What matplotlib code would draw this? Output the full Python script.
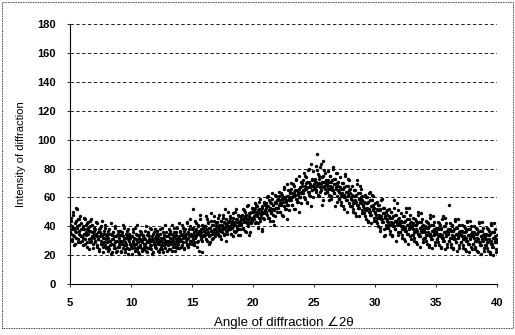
import numpy as np
import matplotlib.pyplot as plt
from matplotlib.patches import Rectangle

# 2-theta from 5 to 40 deg, 0.05 deg step; one row per degree
angle_start = 5.0
angle_step = 0.05
intensity = [
    41, 35, 46, 30, 38, 50, 33, 39, 28, 44, 36, 40, 52, 31, 37, 45, 34, 29, 42, 38,
    33, 40, 27, 38, 45, 31, 36, 42, 29, 35, 39, 24, 37, 44, 32, 30, 41, 36, 28, 34,
    37, 29, 35, 43, 26, 33, 31, 38, 24, 36, 30, 40, 28, 34, 22, 35, 32, 39, 27, 31,
    29, 35, 23, 32, 38, 27, 30, 21, 34, 28, 36, 31, 25, 40, 29, 33, 22, 30, 35, 26,
    32, 26, 37, 29, 23, 34, 30, 41, 27, 31, 22, 35, 28, 33, 25, 38, 30, 24, 32, 28,
    27, 33, 21, 30, 36, 28, 25, 39, 31, 24, 34, 29, 22, 32, 37, 26, 30, 35, 23, 31,
    34, 28, 24, 31, 40, 26, 30, 22, 35, 29, 33, 25, 38, 27, 31, 21, 30, 36, 28, 32,
    26, 33, 29, 37, 23, 31, 28, 35, 24, 30, 39, 27, 32, 22, 34, 29, 25, 36, 30, 28,
    33, 27, 38, 30, 24, 35, 29, 41, 26, 32, 28, 36, 23, 31, 34, 27, 39, 30, 25, 33,
    30, 37, 26, 34, 41, 29, 35, 24, 33, 38, 31, 27, 43, 32, 36, 28, 34, 40, 30, 35,
    38, 31, 52, 34, 27, 37, 42, 33, 29, 36, 40, 23, 35, 45, 32, 38, 30, 41, 34, 37,
    33, 40, 36, 47, 30, 38, 35, 43, 28, 39, 34, 49, 37, 31, 41, 36, 44, 33, 38, 35,
    42, 36, 39, 46, 33, 40, 37, 44, 31, 41, 38, 48, 35, 43, 39, 30, 45, 37, 41, 50,
    38, 44, 40, 47, 35, 42, 39, 46, 33, 43, 41, 50, 37, 45, 40, 34, 48, 42, 38, 44,
    47, 41, 45, 52, 38, 46, 43, 50, 36, 48, 44, 55, 40, 47, 34, 49, 45, 42, 53, 46,
    45, 51, 47, 56, 42, 50, 48, 54, 39, 52, 46, 59, 44, 50, 37, 53, 49, 46, 57, 51,
    55, 49, 53, 60, 46, 54, 51, 58, 44, 56, 50, 63, 48, 55, 52, 41, 57, 53, 61, 50,
    53, 59, 55, 64, 50, 58, 56, 62, 48, 60, 54, 67, 52, 59, 57, 45, 61, 55, 65, 58,
    58, 64, 60, 70, 55, 63, 61, 68, 52, 65, 59, 73, 57, 64, 62, 50, 66, 60, 71, 63,
    63, 70, 65, 77, 60, 68, 66, 74, 57, 71, 64, 80, 62, 69, 67, 54, 72, 65, 78, 68,
    72, 66, 70, 82, 64, 90, 69, 76, 61, 73, 67, 83, 65, 71, 58, 75, 68, 79, 63, 70,
    70, 64, 68, 78, 62, 71, 66, 75, 59, 72, 65, 81, 63, 69, 54, 73, 67, 77, 61, 68,
    65, 59, 63, 74, 57, 66, 61, 70, 54, 67, 60, 76, 58, 64, 50, 68, 62, 72, 56, 63,
    60, 54, 58, 68, 52, 61, 56, 65, 49, 62, 55, 72, 53, 59, 47, 63, 57, 66, 51, 58,
    55, 49, 53, 62, 47, 56, 51, 60, 44, 57, 50, 64, 48, 54, 42, 58, 52, 61, 46, 53,
    50, 44, 48, 57, 42, 51, 46, 55, 39, 52, 45, 59, 43, 49, 38, 53, 47, 34, 41, 48,
    45, 39, 43, 52, 37, 46, 41, 50, 34, 47, 40, 58, 38, 44, 30, 48, 42, 51, 36, 43,
    42, 36, 40, 49, 34, 43, 38, 47, 31, 44, 37, 53, 35, 41, 28, 45, 39, 48, 33, 40,
    40, 34, 38, 46, 32, 41, 36, 44, 29, 42, 35, 50, 33, 39, 26, 43, 37, 45, 31, 38,
    38, 32, 36, 44, 30, 39, 34, 42, 27, 40, 33, 48, 31, 37, 25, 41, 35, 43, 29, 36,
    37, 31, 35, 43, 29, 38, 33, 41, 26, 39, 32, 47, 30, 36, 24, 40, 34, 42, 28, 35,
    36, 30, 55, 42, 28, 37, 32, 40, 25, 38, 31, 45, 29, 35, 23, 39, 33, 41, 27, 34,
    35, 29, 33, 41, 27, 36, 31, 39, 24, 37, 30, 44, 28, 34, 22, 38, 32, 40, 26, 33,
    34, 28, 32, 40, 26, 35, 30, 38, 23, 36, 29, 43, 27, 33, 21, 37, 31, 39, 25, 32,
    33, 27, 31, 39, 25, 34, 29, 37, 22, 35, 28, 42, 26, 32, 20, 36, 30, 38, 24, 31,
    29,
]

# second pass of readings, offset half a step (5.025 .. 39.975)
angle_start_b = 5.025
intensity_b = [
    36, 44, 31, 40, 48, 34, 27, 42, 37, 53, 32, 39, 45, 29, 41, 35, 47, 33, 38, 30,
    39, 32, 46, 35, 28, 41, 34, 38, 26, 43, 37, 31, 40, 29, 45, 33, 36, 25, 39, 32,
    30, 38, 34, 27, 42, 31, 36, 23, 33, 39, 28, 35, 44, 26, 32, 37, 29, 41, 25, 34,
    33, 26, 37, 30, 24, 35, 28, 42, 31, 22, 36, 27, 33, 39, 25, 30, 34, 23, 37, 29,
    27, 34, 30, 22, 36, 28, 33, 25, 39, 29, 24, 32, 27, 37, 31, 21, 35, 28, 33, 26,
    33, 25, 29, 38, 27, 32, 23, 35, 28, 41, 30, 26, 34, 21, 31, 27, 36, 29, 24, 33,
    26, 32, 37, 28, 23, 34, 29, 36, 25, 31, 27, 39, 30, 24, 33, 35, 22, 29, 38, 27,
    31, 25, 35, 28, 33, 22, 30, 38, 26, 32, 29, 24, 36, 31, 27, 41, 28, 33, 23, 30,
    29, 35, 24, 32, 37, 28, 31, 23, 34, 30, 39, 26, 33, 29, 36, 25, 32, 28, 42, 31,
    36, 30, 34, 27, 39, 32, 25, 37, 33, 29, 35, 42, 31, 26, 38, 34, 30, 45, 33, 28,
    33, 39, 29, 36, 44, 32, 38, 26, 35, 41, 30, 37, 34, 48, 31, 36, 22, 39, 33, 40,
    40, 34, 38, 31, 45, 36, 42, 33, 39, 29, 37, 44, 35, 41, 32, 38, 47, 34, 40, 36,
    37, 43, 35, 41, 48, 38, 33, 44, 40, 36, 46, 39, 34, 42, 52, 37, 41, 35, 43, 39,
    43, 38, 46, 41, 35, 44, 40, 49, 37, 42, 36, 45, 52, 39, 43, 38, 47, 41, 34, 45,
    42, 48, 45, 39, 51, 44, 47, 37, 46, 42, 54, 45, 41, 49, 43, 36, 50, 46, 44, 52,
    50, 45, 53, 48, 43, 55, 47, 51, 42, 49, 57, 46, 52, 48, 38, 54, 50, 45, 56, 49,
    50, 56, 48, 54, 61, 51, 46, 57, 53, 49, 59, 52, 44, 55, 51, 62, 47, 56, 53, 58,
    58, 53, 61, 56, 50, 63, 55, 59, 47, 57, 66, 54, 60, 52, 58, 69, 55, 61, 51, 59,
    63, 58, 66, 60, 55, 69, 61, 64, 52, 62, 72, 59, 65, 57, 63, 75, 60, 67, 56, 64,
    68, 63, 72, 65, 59, 75, 66, 70, 56, 67, 79, 64, 71, 61, 68, 83, 65, 73, 60, 69,
    67, 73, 65, 71, 79, 68, 62, 75, 70, 64, 81, 69, 55, 74, 67, 85, 71, 66, 77, 72,
    69, 64, 72, 66, 58, 75, 68, 71, 61, 67, 80, 65, 73, 63, 69, 77, 66, 70, 57, 71,
    64, 59, 67, 61, 55, 70, 63, 66, 52, 62, 75, 60, 68, 58, 64, 73, 61, 65, 54, 66,
    59, 54, 62, 56, 50, 65, 58, 61, 47, 57, 69, 55, 63, 53, 59, 68, 56, 60, 49, 61,
    54, 49, 57, 51, 45, 60, 53, 56, 43, 52, 63, 50, 58, 48, 54, 62, 51, 55, 44, 56,
    49, 44, 52, 46, 40, 55, 48, 51, 37, 47, 58, 45, 53, 43, 49, 33, 46, 50, 39, 51,
    44, 39, 47, 41, 35, 50, 43, 46, 33, 42, 53, 40, 48, 38, 44, 56, 41, 45, 34, 46,
    41, 36, 44, 38, 32, 47, 40, 43, 30, 39, 50, 37, 45, 35, 41, 53, 38, 42, 31, 43,
    39, 34, 42, 36, 30, 45, 38, 41, 28, 37, 48, 35, 43, 33, 39, 49, 36, 40, 29, 41,
    37, 32, 40, 34, 28, 43, 36, 39, 26, 35, 46, 33, 41, 31, 37, 47, 34, 38, 27, 39,
    36, 31, 39, 33, 27, 42, 35, 38, 25, 34, 45, 32, 40, 30, 36, 46, 33, 37, 26, 38,
    35, 30, 38, 32, 26, 41, 34, 37, 24, 33, 44, 31, 39, 29, 35, 45, 32, 36, 25, 37,
    34, 29, 37, 31, 25, 40, 33, 36, 23, 32, 43, 30, 38, 28, 34, 44, 31, 35, 24, 36,
    33, 28, 36, 30, 24, 39, 32, 35, 22, 31, 42, 29, 37, 27, 33, 43, 30, 34, 23, 35,
    32, 27, 35, 29, 23, 38, 31, 34, 21, 30, 41, 28, 36, 26, 32, 42, 29, 33, 22, 34,
]

angle = angle_start + angle_step * np.arange(len(intensity))
angle_b = angle_start_b + angle_step * np.arange(len(intensity_b))

x_ticks = [5, 10, 15, 20, 25, 30, 35, 40]
y_ticks = [0, 20, 40, 60, 80, 100, 120, 140, 160, 180]

plt.rcParams['font.family'] = ['Liberation Sans', 'DejaVu Sans']

fig = plt.figure(figsize=(5.15, 3.35), dpi=100)
ax = fig.add_axes([0.136, 0.152, 0.829, 0.776])

ax.scatter(angle, intensity, s=6, c='black', marker='o', linewidths=0, zorder=3)
ax.scatter(angle_b, intensity_b, s=6, c='black', marker='o', linewidths=0, zorder=3)

ax.set_xlim(5, 40)
ax.set_ylim(0, 180)
ax.set_xticks(x_ticks)
ax.set_yticks(y_ticks)
for y in y_ticks[1:]:
    ax.axhline(y, color='black', linestyle=(0, (4, 3)), linewidth=0.6, zorder=1)

ax.spines['top'].set_visible(False)
ax.spines['right'].set_visible(False)
ax.spines['left'].set_linewidth(0.8)
ax.spines['bottom'].set_linewidth(0.8)
ax.tick_params(axis='both', length=2, width=0.6, labelsize=8, pad=8)
for lab in ax.get_xticklabels() + ax.get_yticklabels():
    lab.set_fontweight('bold')

ax.set_xlabel('Angle of diffraction ∠2θ', fontsize=9.5, labelpad=6)
ax.set_ylabel('Intensity of diffraction', fontsize=8, labelpad=8)

# dotted border round the whole picture
fig.patches.append(Rectangle((0.004, 0.02), 0.992, 0.975, transform=fig.transFigure,
                             fill=False, edgecolor='black', linewidth=0.6,
                             linestyle=(0, (1, 1))))

fig.savefig('out.png', dpi=100)
